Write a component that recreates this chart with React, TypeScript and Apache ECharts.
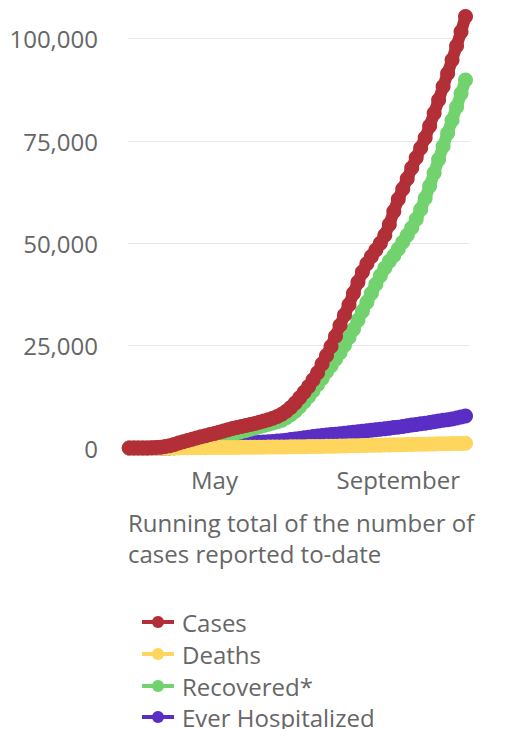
import React, { useEffect, useRef } from "react";
import * as echarts from "echarts";

const dates = [
  "2020-03-05", "2020-03-08", "2020-03-11", "2020-03-14", "2020-03-17", "2020-03-20", "2020-03-23", "2020-03-26", "2020-03-29",
  "2020-04-01", "2020-04-04", "2020-04-07", "2020-04-10", "2020-04-13", "2020-04-16", "2020-04-19", "2020-04-22", "2020-04-25", "2020-04-28",
  "2020-05-01", "2020-05-04", "2020-05-07", "2020-05-10", "2020-05-13", "2020-05-16", "2020-05-19", "2020-05-22", "2020-05-25", "2020-05-28", "2020-05-31",
  "2020-06-03", "2020-06-06", "2020-06-09", "2020-06-12", "2020-06-15", "2020-06-18", "2020-06-21", "2020-06-24", "2020-06-27", "2020-06-30",
  "2020-07-03", "2020-07-06", "2020-07-09", "2020-07-12", "2020-07-15", "2020-07-18", "2020-07-21", "2020-07-24", "2020-07-27", "2020-07-30",
  "2020-08-02", "2020-08-05", "2020-08-08", "2020-08-11", "2020-08-14", "2020-08-17", "2020-08-20", "2020-08-23", "2020-08-26", "2020-08-29",
  "2020-09-01", "2020-09-04", "2020-09-07", "2020-09-10", "2020-09-13", "2020-09-16", "2020-09-19", "2020-09-22", "2020-09-25", "2020-09-28",
  "2020-10-01", "2020-10-04", "2020-10-07", "2020-10-10", "2020-10-13", "2020-10-16",
];

const cases = [
  0, 0, 0, 10, 20, 50, 100, 200, 350,
  550, 850, 1200, 1550, 1850, 2150, 2450, 2750, 3000, 3300,
  3550, 3850, 4150, 4450, 4750, 5000, 5250, 5500, 5750, 6000, 6300,
  6600, 6900, 7250, 7700, 8250, 9000, 9900, 11000, 12300, 13600,
  15000, 16700, 18400, 20500, 22600, 24800, 27300, 29900, 32500, 35000,
  37800, 40500, 43000, 45000, 46800, 48400, 50000, 52000, 54600, 57800,
  60800, 63300, 65800, 68400, 70900, 73300, 75800, 78700, 81800, 85000,
  88300, 91500, 94800, 98200, 101700, 105400,
];

const deaths = [
  0, 0, 0, 0, 0, 0, 0, 0, 0,
  10, 15, 25, 35, 45, 55, 65, 75, 85, 95,
  100, 110, 120, 130, 140, 150, 160, 170, 180, 190, 200,
  210, 220, 230, 240, 250, 265, 280, 295, 310, 325,
  340, 355, 370, 390, 410, 430, 450, 470, 495, 520,
  545, 570, 595, 620, 645, 670, 695, 720, 745, 770,
  795, 820, 845, 870, 895, 920, 945, 970, 995, 1015,
  1040, 1060, 1080, 1100, 1125, 1150,
];

const recovered = [
  0, 0, 0, 0, 0, 0, 0, 0, 0,
  20, 60, 150, 300, 500, 750, 1000, 1300, 1600, 1900,
  2200, 2500, 2800, 3100, 3400, 3700, 4000, 4300, 4600, 4900, 5200,
  5500, 5800, 6100, 6400, 6800, 7400, 8100, 9000, 10100, 11300,
  12600, 14000, 15500, 17000, 18600, 20100, 21700, 23300, 25100, 27000,
  29000, 31200, 33400, 35600, 37800, 40000, 42100, 44000, 45600, 47000,
  48600, 50300, 52000, 53800, 55900, 58300, 61000, 64000, 67200, 70500,
  73700, 76900, 80100, 83300, 86600, 89900,
];

const hospitalized = [
  0, 0, 0, 0, 0, 0, 0, 0, 0,
  30, 70, 120, 180, 240, 300, 360, 420, 480, 540,
  600, 680, 760, 840, 920, 1000, 1080, 1160, 1240, 1320, 1400,
  1470, 1540, 1610, 1680, 1750, 1900, 2050, 2200, 2350, 2500,
  2650, 2800, 2920, 3040, 3160, 3270, 3380, 3490, 3600, 3720,
  3840, 3960, 4080, 4200, 4320, 4440, 4560, 4690, 4820, 4980,
  5100, 5250, 5420, 5600, 5750, 5900, 6050, 6200, 6400, 6600,
  6750, 6900, 7100, 7300, 7550, 7800,
];

const seriesNames = ["Cases", "Deaths", "Recovered*", "Ever Hospitalized"];
const seriesColors = ["#b22f38", "#fed65e", "#72d26e", "#5a2dc4"];
// month index (0-based) -> label shown on the x axis
const xLabelMonths: Record<number, string> = { 4: "May", 8: "September" };
const yTicks = [0, 25000, 50000, 75000, 100000];
const titleLines = ["Running total of the number of", "cases reported to-date"];

const FONT = "'Open Sans', sans-serif";
const TEXT = "#666666";
const LEGEND_ROW_CENTERS = [622, 654, 686, 717];

export default function App() {
  const ref = useRef<HTMLDivElement>(null);

  useEffect(() => {
    if (!ref.current) return;
    const chart = echarts.init(ref.current, null, { renderer: "svg" });
    const values = [cases, deaths, recovered, hospitalized];
    const mk = (i: number) => ({
      name: seriesNames[i],
      type: "line",
      data: dates.map((d, k) => [d, values[i][k]]),
      symbol: "circle",
      symbolSize: 15,
      showSymbol: true,
      showAllSymbol: true,
      clip: false,
      itemStyle: { color: seriesColors[i], borderWidth: 0 },
      lineStyle: { color: seriesColors[i], width: 12 },
      emphasis: { disabled: true },
    });
    const legends = seriesNames.map((name, i) => ({
      data: [name],
      orient: "vertical",
      left: 140,
      top: LEGEND_ROW_CENTERS[i] - 12,
      padding: 0,
      itemWidth: 32,
      itemHeight: 15,
      lineStyle: { width: 4 },
      textStyle: {
        fontFamily: FONT,
        fontSize: 24,
        lineHeight: 24,
        color: TEXT,
        padding: [0, 0, 0, 3],
      },
    }));
    chart.setOption({
      animation: false,
      color: seriesColors,
      title: {
        text: titleLines.join("\n"),
        left: 128,
        top: 507,
        padding: 0,
        textStyle: {
          fontFamily: FONT,
          fontSize: 24,
          lineHeight: 31,
          fontWeight: "normal",
          color: TEXT,
        },
      },
      legend: legends,
      grid: {
        left: 128,
        right: 38,
        top: 38.7,
        bottom: 281,
        outerBoundsMode: "none",
      },
      xAxis: {
        type: "time",
        min: new Date(2020, 2, 4, 3).getTime(),
        max: new Date(2020, 9, 18, 8).getTime(),
        splitNumber: 8,
        axisLine: { show: false },
        axisTick: { show: false },
        splitLine: { show: false },
        axisLabel: {
          margin: 19,
          hideOverlap: false,
          showMinLabel: false,
          showMaxLabel: false,
          fontFamily: FONT,
          fontSize: 24,
          color: TEXT,
          formatter: (v: number) => {
            const d = new Date(v);
            if (d.getDate() !== 1 || d.getHours() !== 0) return "";
            return xLabelMonths[d.getMonth()] || "";
          },
        },
      },
      yAxis: {
        type: "value",
        min: yTicks[0],
        max: yTicks[yTicks.length - 1],
        interval: yTicks[1] - yTicks[0],
        axisLine: { show: false },
        axisTick: { show: false },
        splitLine: { lineStyle: { color: "#e6e6e6", width: 1 } },
        axisLabel: {
          margin: 30,
          fontFamily: FONT,
          fontSize: 24,
          color: TEXT,
          formatter: (v: number) => v.toLocaleString("en-US"),
        },
      },
      series: [mk(3), mk(2), mk(1), mk(0)],
    });
    return () => chart.dispose();
  }, []);

  return (
    <div
      ref={ref}
      style={{ position: "absolute", left: 0, top: 0, width: 507, height: 729 }}
    />
  );
}
